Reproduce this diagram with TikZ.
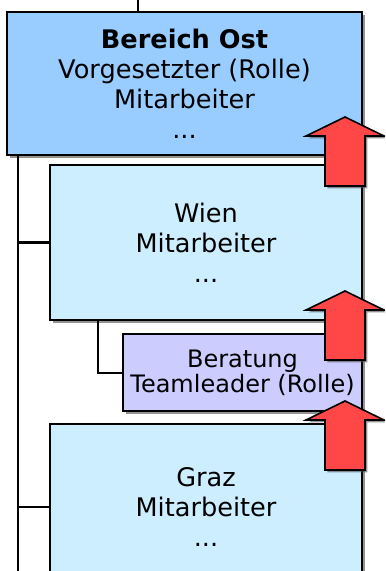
\documentclass[tikz,border=0pt]{standalone}
\usepackage{fontspec}
\setmainfont{DejaVu Sans}
\usetikzlibrary{shadows}
\definecolor{ostblue}{HTML}{99CCFF}
\definecolor{siteblue}{HTML}{CCEEFF}
\definecolor{teamlilac}{HTML}{CCCCFF}
\definecolor{raisered}{HTML}{FF4747}

\begin{document}
\begin{tikzpicture}[x=0.5pt,y=-0.5pt,line width=1pt,
	box/.style={draw,rectangle,align=center,inner sep=0pt,
		font=\fontsize{12.8}{15}\selectfont,
		drop shadow={shadow xshift=1.5pt,shadow yshift=-1.5pt,fill=black!70,opacity=.6}},
	ost node/.style={box,fill=ostblue,minimum width=177.5pt,minimum height=71.5pt},
	site node/.style={box,fill=siteblue,minimum width=156pt,minimum height=77.5pt},
	team node/.style={box,fill=teamlilac,minimum width=119.5pt,minimum height=38.5pt,
		font=\fontsize{12}{12.5}\selectfont},
	raise arrow/.pic={
		\draw[fill=raisered,line width=0.8pt,
			drop shadow={shadow xshift=1.2pt,shadow yshift=-1.2pt,fill=black!70,opacity=.6}]
		(-20,0) -- (-20,-50) -- (-39,-50) -- (0,-69) -- (39,-50) -- (20,-50) -- (20,0) -- cycle;
	}]
	
	\clip (0,0) rectangle (385,571);
	
	\node[ost node] (ost) at (184.5,84) {\textbf{Bereich Ost}\\Vorgesetzter (Rolle)\\Mitarbeiter\\...};
	\node[site node] (wien) at (206,242.5) {Wien\\Mitarbeiter\\...};
	\node[team node] (beratung) at (242.5,372.5) {Beratung\\Teamleader (Rolle)};
	\node[site node,minimum height=83pt] (graz) at (206,507) {Graz\\Mitarbeiter\\...};
	
	\coordinate (top) at (138,0);
	\coordinate (trunk) at (18,571);
	\coordinate (branch) at (98,0);
	
	\draw (ost.north -| top) -- (top);
	\draw (ost.south -| trunk) -- (trunk);
	\draw (trunk |- wien.west) -- (wien.west);
	\draw (trunk |- graz.west) -- (graz.west);
	\draw (wien.south -| branch) |- (beratung.west);
	
	\pic at (345,186) {raise arrow};
	\pic at (345,360) {raise arrow};
	\pic at (345,470) {raise arrow};
\end{tikzpicture}
\end{document}
